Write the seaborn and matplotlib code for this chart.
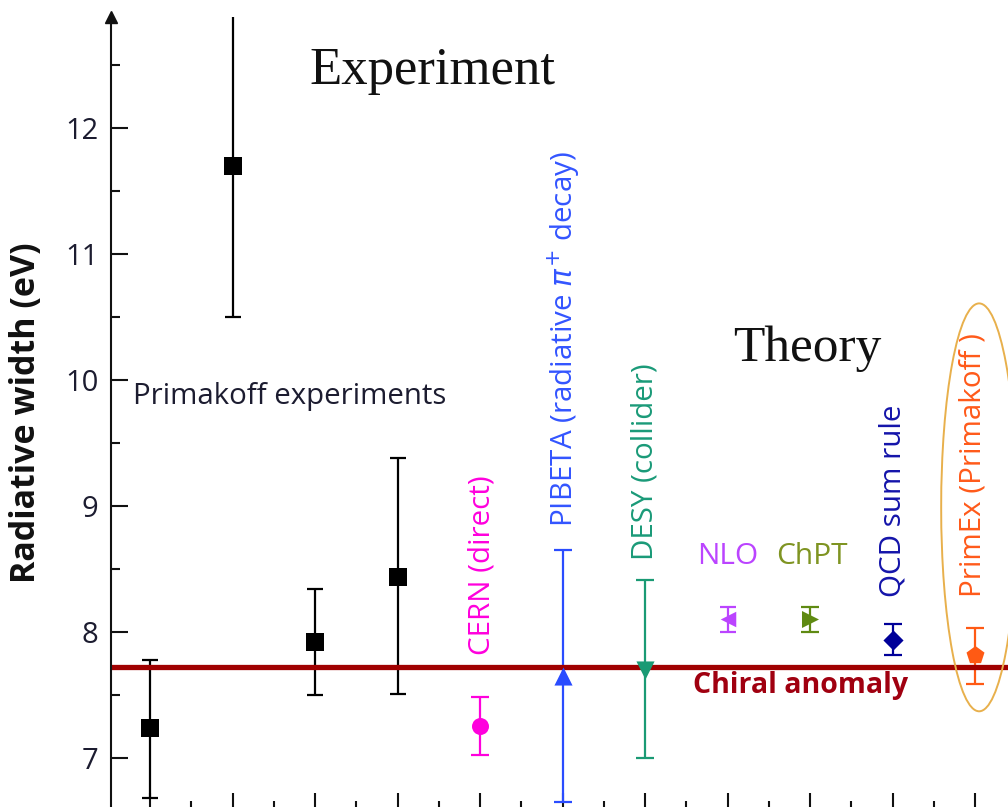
import numpy as np
import pandas as pd
import matplotlib
matplotlib.use("Agg")
import matplotlib.pyplot as plt
from matplotlib.patches import Ellipse
from matplotlib.ticker import MultipleLocator, NullFormatter
import seaborn as sns

# ---------------- data ----------------
categories = ["Primakoff A", "Primakoff B", "Primakoff C", "Primakoff D",
              "CERN", "PIBETA", "DESY", "NLO", "ChPT", "QCD", "PrimEx"]
positions = [1, 2, 3, 4, 5, 6, 7, 8, 9, 10, 11]
widths = [7.24, 11.70, 7.92, 8.44, 7.25, 7.65, 7.70, 8.10, 8.10, 7.94, 7.82]
err_low = [0.56, 1.20, 0.42, 0.93, 0.23, 1.00, 0.70, 0.10, 0.10, 0.12, 0.23]
err_high = [0.54, 1.20, 0.42, 0.94, 0.23, 1.00, 0.71, 0.10, 0.10, 0.12, 0.21]
chiral_anomaly = 7.72

# ---------------- styles ----------------
colors = ["#000000", "#000000", "#000000", "#000000", "#ff00dd", "#2a4cff",
          "#1a9a74", "#bb44ff", "#5f8a12", "#000099", "#ff5a14"]
markers = ["s", "s", "s", "s", "o", "^", "v", "<", ">", "D", "p"]
msizes = [165, 165, 165, 165, 150, 170, 170, 125, 150, 105, 185]
capsizes = [5.8, 5.8, 5.8, 5.8, 6.5, 6.5, 6.5, 5.5, 6.5, 6.5, 6.5]

df = pd.DataFrame({"category": categories, "position": positions,
                   "width": widths, "lo": err_low, "hi": err_high})

sns.set_theme(style="ticks")
plt.rcParams["font.family"] = ["Open Sans", "DejaVu Sans"]
plt.rcParams["mathtext.fontset"] = "dejavusans"

fig = plt.figure(figsize=(10.08, 8.07), dpi=100)
ax = fig.add_axes([111 / 1008, -3 / 807, 897 / 1008, 793 / 807])

# error bars
for i, row in df.iterrows():
    ax.errorbar(row["position"], row["width"],
                yerr=[[row["lo"]], [row["hi"]]], fmt="none",
                ecolor=colors[i], elinewidth=1.6, capsize=capsizes[i],
                capthick=1.6, zorder=1)

# chiral anomaly line
ax.axhline(chiral_anomaly, color="#a00000", lw=3.8, zorder=2)

# markers
for i, row in df.iterrows():
    sns.scatterplot(data=df.iloc[[i]], x="position", y="width", ax=ax,
                    marker=markers[i], color=colors[i], s=msizes[i],
                    linewidth=0, zorder=3, legend=False)

ax.set_xlim(0.527, 11.4)
ax.set_ylim(6.586, 12.885)
ax.xaxis.set_major_locator(MultipleLocator(1))
ax.xaxis.set_minor_locator(MultipleLocator(0.5))
ax.yaxis.set_major_locator(MultipleLocator(1))
ax.yaxis.set_minor_locator(MultipleLocator(0.5))
ax.xaxis.set_major_formatter(NullFormatter())
ax.tick_params(axis="both", which="major", direction="in", length=12.5,
               width=1.5, color="#111111")
ax.tick_params(axis="both", which="minor", direction="in", length=6.5,
               width=1.5, color="#111111")
ax.tick_params(axis="y", which="major", labelsize=21, pad=9,
               labelcolor="#1c1c30")
for s in ["top", "right"]:
    ax.spines[s].set_visible(False)
for s in ["left", "bottom"]:
    ax.spines[s].set_linewidth(1.5)
    ax.spines[s].set_color("#111111")
ax.set_xlabel("")
ax.set_ylabel("Radiative width (eV)", fontsize=24.5, fontweight="bold",
              color="#111111")
ax.yaxis.set_label_coords((43 - 111) / 897, 0.5006)

# arrow on y-axis
ax.plot([0], [1], marker="^", color="#111111", ms=8, transform=ax.transAxes,
        clip_on=False)

# texts
ax.text(0.794, 9.81, "Primakoff experiments", fontsize=21.2, color="#1c1c30",
        ha="left", va="baseline")
ax.text(2.927, 12.35, "Experiment", fontsize=38, family="Liberation Serif",
        color="#111111", ha="left", va="baseline")
ax.text(8.067, 10.15, "Theory", fontsize=37, family="Liberation Serif",
        color="#111111", ha="left", va="baseline")
ax.text(8.89, 7.514, "Chiral anomaly", fontsize=20.5, fontweight="bold",
        color="#a00010", ha="center", va="baseline")

rot_labels = [("CERN (direct)", 5.02, 7.817, "#ff00dd"),
              (r"PIBETA (radiative $\pi^{+}$ decay)", 6.02, 8.837, "#3355ff"),
              ("DESY (collider)", 7.0, 8.57, "#1a9a78"),
              ("QCD sum rule", 10.0, 8.28, "#1414aa"),
              ("PrimEx (Primakoff )", 10.98, 8.28, "#ff5a1a")]
for txt, x, y, c in rot_labels:
    ax.text(x, y, txt, rotation=90, fontsize=21.3, color=c, ha="center",
            va="bottom")
ax.text(8.0, 8.60, "NLO", fontsize=21.5, color="#bb44ff", ha="center",
        va="center")
ax.text(9.02, 8.60, "ChPT", fontsize=21.5, color="#7f9422", ha="center",
        va="center")

ax.add_patch(Ellipse((11.05, 8.99), 0.92, 3.24, fill=False, ec="#e8b04c",
                     lw=1.4, clip_on=False, zorder=2))

fig.savefig("out.png", dpi=100)
